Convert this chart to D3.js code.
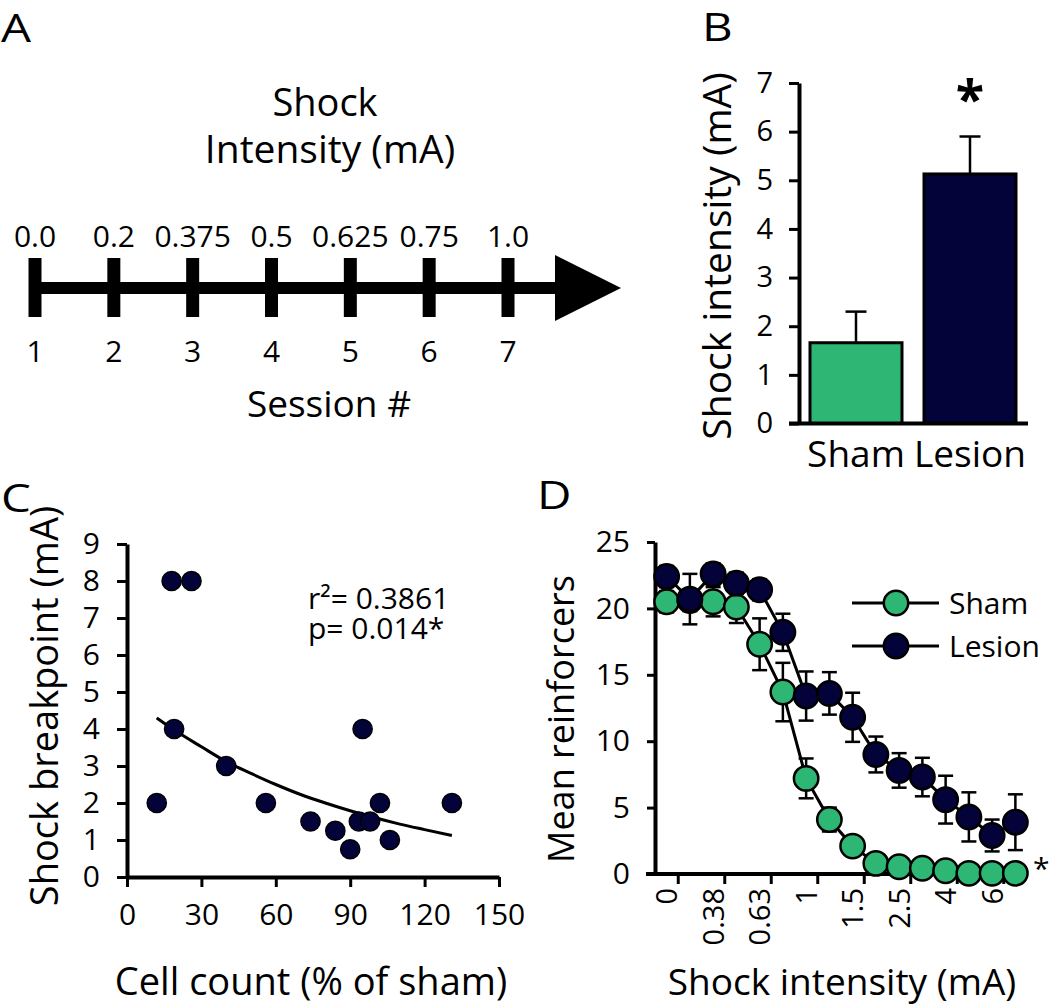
<!DOCTYPE html>
<html><head><meta charset="utf-8">
<script src="https://cdn.jsdelivr.net/npm/d3@7"></script>
<style>
body{margin:0;background:#fff}
svg{display:block}
text{font-family:"Open Sans",sans-serif;fill:#000}
</style>
</head><body>
<svg id="c" width="1050" height="1007"></svg>
<script>
// ---------- data ----------
const aSessions = [1, 2, 3, 4, 5, 6, 7];
const aIntensity = ["0.0", "0.2", "0.375", "0.5", "0.625", "0.75", "1.0"];

const bGroups = ["Sham", "Lesion"];
const bMeans = [1.66, 5.13];
const bSem = [0.64, 0.77];

const cCellCount = [12, 18, 26, 19, 40, 56, 74, 84, 90, 93.5, 98, 95, 102, 106, 131];
const cBreakpoint = [2, 8, 8, 4, 3, 2, 1.5, 1.25, 0.75, 1.5, 1.5, 4, 2, 1, 2];
const cTrendX = [12, 20, 30, 40, 50, 60, 70, 80, 90, 100, 110, 120, 131];
const cTrendY = [4.3, 3.93, 3.52, 3.12, 2.8, 2.5, 2.23, 2.0, 1.79, 1.6, 1.43, 1.28, 1.12];
const cXTicks = [0, 30, 60, 90, 120, 150];
const cYTicks = [0, 1, 2, 3, 4, 5, 6, 7, 8, 9];

const dSessions = [1, 2, 3, 4, 5, 6, 7, 8, 9, 10, 11, 12, 13, 14, 15, 16];
const dLabelSessions = [1, 3, 5, 7, 9, 11, 13, 15];
const dTickLabels = ["0", "0.38", "0.63", "1", "1.5", "2.5", "4", "6"];
const dShamMean = [20.5, 20.6, 20.5, 20.1, 17.3, 13.7, 7.2, 4.1, 2.1, 0.8, 0.55, 0.43, 0.25, 0.05, 0.05, 0.05];
const dShamSem = [0.8, 0.8, 1.1, 1.2, 1.95, 2.2, 1.5, 0.9, 0.5, 0.4, 0.3, 0.3, 0.2, 0.05, 0.05, 0.05];
const dLesionMean = [22.4, 20.7, 22.6, 21.9, 21.4, 18.2, 13.4, 13.6, 11.8, 9.0, 7.8, 7.3, 5.6, 4.3, 2.9, 3.9];
const dLesionSem = [0.8, 1.9, 0.8, 0.8, 0.8, 1.4, 1.85, 1.6, 1.85, 1.35, 1.3, 1.45, 1.8, 1.85, 1.2, 2.1];
const dYTicks = [0, 5, 10, 15, 20, 25];

const GREEN = "#2eb674";
const NAVY = "#03033a";

const svg = d3.select("#c");

// panel letters
[["A", 1, 42], ["B", 702, 41], ["C", 1, 512], ["D", 537, 509]].forEach(([t, x, y]) =>
  svg.append("text").attr("x", x).attr("y", y).attr("font-size", 38)
    .attr("transform", `translate(${x},0) scale(1.25,1) translate(${-x},0)`).text(t));

// ---------- Panel A ----------
const gA = svg.append("g");
const xA = d3.scalePoint().domain(aSessions).range([35, 508]);
gA.append("rect").attr("x", xA(1)).attr("y", 282).attr("width", 555 - xA(1)).attr("height", 12).attr("fill", "#000");
gA.append("path").attr("d", "M555,255L621,288L555,321Z").attr("fill", "#000");
gA.selectAll("rect.tk").data(aSessions).join("rect").attr("class", "tk")
  .attr("x", d => xA(d) - 6.5).attr("y", 258).attr("width", 13).attr("height", 59).attr("fill", "#000");
gA.selectAll("text.iv").data(aSessions).join("text").attr("class", "iv")
  .attr("x", d => xA(d)).attr("y", 247).attr("text-anchor", "middle").attr("font-size", 30)
  .text((d, i) => aIntensity[i]);
gA.selectAll("text.sn").data(aSessions).join("text").attr("class", "sn")
  .attr("x", d => xA(d)).attr("y", 362).attr("text-anchor", "middle").attr("font-size", 30)
  .text(d => d);
const tA = gA.append("text").attr("text-anchor", "middle").attr("font-size", 39);
tA.append("tspan").attr("x", 325).attr("y", 116).attr("font-size", 38).text("Shock");
tA.append("tspan").attr("x", 330).attr("y", 163).text("Intensity (mA)");
gA.append("text").attr("x", 329).attr("y", 417).attr("text-anchor", "middle").attr("font-size", 37).text("Session #");

// ---------- Panel B ----------
const yB = d3.scaleLinear().domain([0, 7]).range([423.5, 83]);
const xB = d3.scaleBand().domain(bGroups).range([799, 1027]).paddingInner(0.193).paddingOuter(0.0965);
const gB = svg.append("g");
gB.selectAll("rect.bar").data(bGroups).join("rect").attr("class", "bar")
  .attr("x", d => xB(d)).attr("width", xB.bandwidth())
  .attr("y", (d, i) => yB(bMeans[i])).attr("height", (d, i) => yB(0) - yB(bMeans[i]))
  .attr("fill", (d, i) => i === 0 ? GREEN : NAVY).attr("stroke", "#000").attr("stroke-width", 3);
bGroups.forEach((g, i) => {
  const cx = xB(g) + xB.bandwidth() / 2;
  gB.append("line").attr("x1", cx).attr("x2", cx).attr("y1", yB(bMeans[i])).attr("y2", yB(bMeans[i] + bSem[i]))
    .attr("stroke", "#000").attr("stroke-width", 2.5);
  gB.append("line").attr("x1", cx - 10.5).attr("x2", cx + 10.5).attr("y1", yB(bMeans[i] + bSem[i])).attr("y2", yB(bMeans[i] + bSem[i]))
    .attr("stroke", "#000").attr("stroke-width", 2.5);
});
const axB = gB.append("g").attr("transform", "translate(799,0)")
  .call(d3.axisLeft(yB).ticks(7).tickSize(10).tickSizeOuter(0).tickPadding(16));
axB.select(".domain").attr("stroke-width", 4);
axB.selectAll(".tick line").attr("stroke-width", 3);
axB.selectAll(".tick text").attr("font-size", 29).attr("font-family", "Open Sans");
gB.append("line").attr("x1", 789).attr("x2", 1028).attr("y1", yB(0)).attr("y2", yB(0)).attr("stroke", "#000").attr("stroke-width", 4);
gB.selectAll("text.xl").data(bGroups).join("text").attr("class", "xl")
  .attr("x", d => xB(d) + xB.bandwidth() / 2).attr("y", 467).attr("text-anchor", "middle").attr("font-size", 37).text(d => d);
gB.append("text").attr("transform", "translate(731,256) rotate(-90)").attr("text-anchor", "middle")
  .attr("font-size", 39).text("Shock intensity (mA)");
gB.append("text").attr("x", xB("Lesion") + xB.bandwidth() / 2).attr("y", 118).attr("text-anchor", "middle")
  .attr("font-size", 52).attr("font-weight", "bold").text("*");

// ---------- Panel C ----------
const xC = d3.scaleLinear().domain([0, 150]).range([127, 499]);
const yC = d3.scaleLinear().domain([0, 9]).range([877, 544]);
const gC = svg.append("g");
const axCy = gC.append("g").attr("transform", "translate(127,0)")
  .call(d3.axisLeft(yC).tickValues(cYTicks).tickFormat(d3.format("d")).tickSize(10).tickSizeOuter(0).tickPadding(17));
const axCx = gC.append("g").attr("transform", "translate(0,877)")
  .call(d3.axisBottom(xC).tickValues(cXTicks).tickFormat(d3.format("d")).tickSize(10).tickSizeOuter(0).tickPadding(17));
[axCy, axCx].forEach(a => {
  a.select(".domain").attr("stroke-width", 4);
  a.selectAll(".tick line").attr("stroke-width", 3);
  a.selectAll(".tick text").attr("font-size", 30).attr("font-family", "Open Sans");
});
gC.append("path").datum(cTrendX.map((x, i) => [x, cTrendY[i]]))
  .attr("d", d3.line().x(d => xC(d[0])).y(d => yC(d[1])).curve(d3.curveMonotoneX))
  .attr("fill", "none").attr("stroke", "#000").attr("stroke-width", 3);
gC.selectAll("circle").data(cCellCount).join("circle")
  .attr("cx", d => xC(d)).attr("cy", (d, i) => yC(cBreakpoint[i])).attr("r", 9.6)
  .attr("fill", NAVY).attr("stroke", "#000").attr("stroke-width", 1.5);
const tC = gC.append("text").attr("font-size", 30);
tC.append("tspan").attr("x", 308).attr("y", 609).text("r²= 0.3861");
tC.append("tspan").attr("x", 308).attr("y", 639).text("p= 0.014*");
gC.append("text").attr("x", 311).attr("y", 995).attr("text-anchor", "middle").attr("font-size", 38).text("Cell count (% of sham)");
gC.append("text").attr("transform", "translate(58,706) rotate(-90)").attr("text-anchor", "middle")
  .attr("font-size", 38).text("Shock breakpoint (mA)");

// ---------- Panel D ----------
const xD = d3.scaleBand().domain(dSessions).range([655, 1027]);
const yD = d3.scaleLinear().domain([0, 25]).range([874, 542]);
const cxD = s => xD(s) + xD.bandwidth() / 2;
const gD = svg.append("g");
// x axis
gD.append("line").attr("x1", 646).attr("x2", 1027).attr("y1", yD(0)).attr("y2", yD(0)).attr("stroke", "#000").attr("stroke-width", 4);
gD.selectAll("line.xt").data(dLabelSessions).join("line").attr("class", "xt")
  .attr("x1", d => xD(d) + xD.bandwidth()).attr("x2", d => xD(d) + xD.bandwidth())
  .attr("y1", yD(0)).attr("y2", yD(0) + 10).attr("stroke", "#000").attr("stroke-width", 3);
gD.selectAll("text.xl").data(dLabelSessions).join("text").attr("class", "xl")
  .attr("transform", d => `translate(${cxD(d)},888) rotate(-90)`).attr("dy", "0.36em")
  .attr("text-anchor", "end").attr("font-size", 29).text((d, i) => dTickLabels[i]);
const axDy = gD.append("g").attr("transform", "translate(655,0)")
  .call(d3.axisLeft(yD).tickValues(dYTicks).tickSize(8).tickSizeOuter(0).tickPadding(17));
axDy.select(".domain").attr("stroke-width", 4);
axDy.selectAll(".tick line").attr("stroke-width", 3);
axDy.selectAll(".tick text").attr("font-size", 30).attr("font-family", "Open Sans");

function drawSeries(means, sems, color) {
  const g = gD.append("g");
  dSessions.forEach((s, i) => {
    const x = cxD(s), lo = yD(means[i] - sems[i]), hi = yD(means[i] + sems[i]);
    g.append("line").attr("x1", x).attr("x2", x).attr("y1", lo).attr("y2", hi).attr("stroke", "#000").attr("stroke-width", 2.5);
    g.append("line").attr("x1", x - 7.5).attr("x2", x + 7.5).attr("y1", lo).attr("y2", lo).attr("stroke", "#000").attr("stroke-width", 2.5);
    g.append("line").attr("x1", x - 7.5).attr("x2", x + 7.5).attr("y1", hi).attr("y2", hi).attr("stroke", "#000").attr("stroke-width", 2.5);
  });
  g.append("path").datum(dSessions)
    .attr("d", d3.line().x(s => cxD(s)).y((s, i) => yD(means[i])))
    .attr("fill", "none").attr("stroke", "#000").attr("stroke-width", 3);
  g.selectAll("circle").data(dSessions).join("circle")
    .attr("cx", s => cxD(s)).attr("cy", (s, i) => yD(means[i])).attr("r", 12.2)
    .attr("fill", color).attr("stroke", "#000").attr("stroke-width", 2.5);
}
drawSeries(dShamMean, dShamSem, GREEN);
drawSeries(dLesionMean, dLesionSem, NAVY);

// legend
[["Sham", GREEN, 603], ["Lesion", NAVY, 646]].forEach(([lab, col, y]) => {
  gD.append("line").attr("x1", 852).attr("x2", 939).attr("y1", y).attr("y2", y).attr("stroke", "#000").attr("stroke-width", 3);
  gD.append("circle").attr("cx", 896).attr("cy", y).attr("r", 12.2).attr("fill", col).attr("stroke", "#000").attr("stroke-width", 2.5);
  gD.append("text").attr("x", 949).attr("y", y).attr("dy", "0.36em").attr("font-size", 30).text(lab);
});
gD.append("text").attr("x", 1033).attr("y", 879).attr("font-size", 30).text("*");
gD.append("text").attr("transform", "translate(574,719) rotate(-90)").attr("text-anchor", "middle")
  .attr("font-size", 36).text("Mean reinforcers");
gD.append("text").attr("x", 842).attr("y", 995).attr("text-anchor", "middle").attr("font-size", 37).text("Shock intensity (mA)");
</script>
</body></html>
